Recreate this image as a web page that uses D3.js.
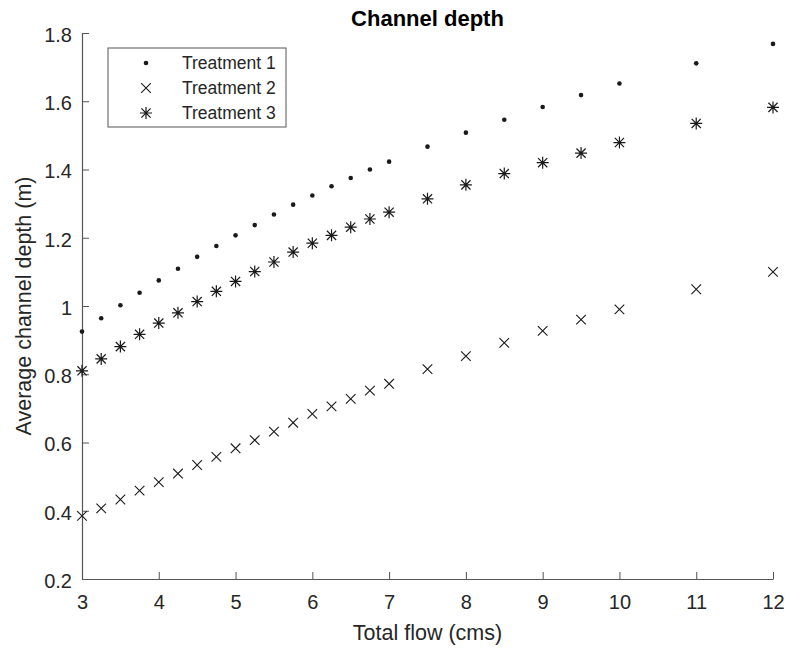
<!DOCTYPE html>
<html>
<head>
<meta charset="utf-8">
<script src="https://d3js.org/d3.v7.min.js"></script>
<style>
  body { margin: 0; background: #fff; }
  text { font-family: "Liberation Sans", Arial, sans-serif; fill: #262626; }
</style>
</head>
<body>
<div id="chart"></div>
<script>
// data
var flow = [3, 3.25, 3.5, 3.75, 4, 4.25, 4.5, 4.75, 5, 5.25, 5.5, 5.75, 6, 6.25, 6.5, 6.75, 7,
            7.5, 8, 8.5, 9, 9.5, 10, 11, 12];
var treatment1 = [0.925, 0.964, 1.002, 1.039, 1.075, 1.109, 1.144, 1.176, 1.207, 1.237, 1.268, 1.297,
                  1.324, 1.351, 1.375, 1.400, 1.423, 1.467, 1.508, 1.546, 1.583, 1.618, 1.652, 1.711, 1.768];
var treatment2 = [0.385, 0.407, 0.433, 0.459, 0.484, 0.509, 0.534, 0.558, 0.583, 0.607, 0.632, 0.658,
                  0.684, 0.706, 0.728, 0.752, 0.772, 0.815, 0.853, 0.892, 0.927, 0.960, 0.990, 1.049, 1.100];
var treatment3 = [0.810, 0.845, 0.881, 0.917, 0.950, 0.980, 1.013, 1.043, 1.072, 1.101, 1.129, 1.158,
                  1.184, 1.207, 1.231, 1.255, 1.275, 1.314, 1.355, 1.388, 1.420, 1.448, 1.479, 1.535, 1.582];
var seriesNames = ['Treatment 1', 'Treatment 2', 'Treatment 3'];
var xTicks = [3, 4, 5, 6, 7, 8, 9, 10, 11, 12];
var yTicks = [0.2, 0.4, 0.6, 0.8, 1, 1.2, 1.4, 1.6, 1.8];

var W = 787, H = 650;
var margin = { top: 33, right: 14, bottom: 71, left: 82 };
var width = W - margin.left - margin.right;
var height = H - margin.top - margin.bottom;
var axisColor = '#555';
var markColor = '#1a1a1a';

var x = d3.scaleLinear().domain([3, 12]).range([0, width]);
var y = d3.scaleLinear().domain([0.2, 1.8]).range([height, 0]);

var svg = d3.select('#chart').append('svg')
  .attr('width', W).attr('height', H);
var g = svg.append('g')
  .attr('transform', 'translate(' + margin.left + ',' + margin.top + ')');

/* axes (ticks point inward, like matlab) */
var xAxis = d3.axisBottom(x).tickValues(xTicks).tickSizeInner(-7).tickSizeOuter(0)
  .tickPadding(16).tickFormat(d3.format('d'));
var yAxis = d3.axisLeft(y).tickValues(yTicks).tickSizeInner(-7).tickSizeOuter(0)
  .tickPadding(10).tickFormat(function(d) { return d3.format('')(+d.toFixed(1)); });

var gx = g.append('g').attr('transform', 'translate(0,' + height + ')').call(xAxis);
var gy = g.append('g').call(yAxis);
[gx, gy].forEach(function(a) {
  a.select('.domain').attr('stroke', axisColor).attr('stroke-width', 1.2);
  a.selectAll('.tick line').attr('stroke', axisColor).attr('stroke-width', 1);
  a.selectAll('.tick text').attr('font-size', 20).style('fill', '#262626')
    .attr('font-family', '"Liberation Sans", Arial, sans-serif');
});
gx.selectAll('.tick text').attr('dy', '0.71em');
gy.selectAll('.tick text').attr('dy', '0.42em');

/* marks */
function drawDot(sel) {
  sel.append('circle').attr('r', 2.3).attr('fill', markColor);
}
function drawCross(sel) {
  var s = 4.8;
  sel.append('path').attr('d', 'M' + -s + ',' + -s + 'L' + s + ',' + s + 'M' + -s + ',' + s + 'L' + s + ',' + -s)
    .attr('stroke', markColor).attr('stroke-width', 1.1).attr('fill', 'none');
}
function drawStar(sel) {
  var s = 6, d = 4.6;
  sel.append('path')
    .attr('d', 'M' + -s + ',0L' + s + ',0M0,' + -s + 'L0,' + s +
               'M' + -d + ',' + -d + 'L' + d + ',' + d + 'M' + -d + ',' + d + 'L' + d + ',' + -d)
    .attr('stroke', markColor).attr('stroke-width', 1.2).attr('fill', 'none');
}
var markers = [drawDot, drawCross, drawStar];
var allSeries = [treatment1, treatment2, treatment3];

allSeries.forEach(function(vals, si) {
  g.append('g').selectAll('g')
    .data(flow.map(function(f, i) { return { f: f, v: vals[i] }; }))
    .enter().append('g')
    .attr('transform', function(d) { return 'translate(' + x(d.f) + ',' + y(d.v) + ')'; })
    .each(function() { markers[si](d3.select(this)); });
});

/* title and labels */
g.append('text')
  .attr('x', width / 2).attr('y', -7)
  .attr('text-anchor', 'middle')
  .attr('font-size', 22).attr('font-weight', 'bold')
  .style('fill', '#000')
  .text('Channel depth');

g.append('text')
  .attr('x', width / 2).attr('y', height + 61)
  .attr('text-anchor', 'middle')
  .attr('font-size', 21.5)
  .text('Total flow (cms)');

g.append('text')
  .attr('transform', 'translate(' + (-51) + ',' + (height / 2) + ') rotate(-90)')
  .attr('text-anchor', 'middle')
  .attr('font-size', 21.5)
  .text('Average channel depth (m)');

/* legend */
var legend = svg.append('g').attr('transform', 'translate(108,48)');
legend.append('rect')
  .attr('width', 178).attr('height', 79)
  .attr('fill', '#fff').attr('stroke', axisColor).attr('stroke-width', 1);
seriesNames.forEach(function(name, i) {
  var row = legend.append('g').attr('transform', 'translate(0,' + (15 + i * 25) + ')');
  markers[i](row.append('g').attr('transform', 'translate(38,0)'));
  row.append('text')
    .attr('x', 74).attr('dy', '0.36em')
    .attr('font-size', 17.5)
    .text(name);
});
</script>
</body>
</html>
